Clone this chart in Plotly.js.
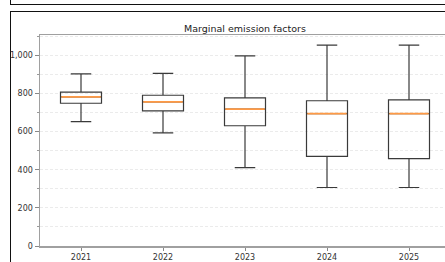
<!DOCTYPE html>
<html>
<head>
<meta charset="utf-8">
<script src="https://cdn.plot.ly/plotly-3.0.1.min.js"></script>
<style>
  html, body { margin:0; padding:0; width:445px; height:262px; overflow:hidden; background:#fff; }
  #chart { position:absolute; left:0; top:0; width:460px; height:280px; }
  .frame { position:absolute; border:1.5px solid #111; box-sizing:border-box; pointer-events:none; }
</style>
</head>
<body>
<div class="frame" style="left:10px; top:-20px; width:520px; height:25px;"></div>
<div class="frame" style="left:10px; top:11px; width:520px; height:300px;"></div>
<div id="chart"></div>
<script>
const years = ['2021', '2022', '2023', '2024', '2025'];
const upperWhisker = [903, 906, 997, 1054, 1054];
const q3 = [807, 791, 777, 762, 767];
const median = [782, 756, 718, 695, 695];
const q1 = [749, 709, 631, 470, 458];
const lowerWhisker = [653, 594, 411, 307, 307];

const pos = years.map((_, i) => i);
const boxWidth = 0.5;

const medX = [], medY = [];
pos.forEach((p, i) => {
  medX.push(p - boxWidth / 2 + 0.01, p + boxWidth / 2 - 0.01, null);
  medY.push(median[i], median[i], null);
});

const data = [
  {
    type: 'box',
    x: pos,
    q1: q1,
    median: median,
    q3: q3,
    lowerfence: lowerWhisker,
    upperfence: upperWhisker,
    width: boxWidth,
    whiskerwidth: 0.5,
    boxpoints: false,
    line: { color: '#3a3a3a', width: 1.2 },
    fillcolor: 'rgba(255,255,255,0)',
    hoverinfo: 'skip',
    showlegend: false
  },
  {
    type: 'scatter',
    mode: 'lines',
    x: medX,
    y: medY,
    line: { color: '#ff9a45', width: 1.8 },
    hoverinfo: 'skip',
    showlegend: false,
    connectgaps: false
  }
];

const layout = {
  width: 460,
  height: 280,
  margin: { l: 40, r: 10, t: 35, b: 34 },
  paper_bgcolor: 'rgba(0,0,0,0)',
  plot_bgcolor: '#fff',
  font: { family: 'DejaVu Sans, sans-serif', size: 8, color: '#333' },
  title: {
    text: 'Marginal emission factors',
    font: { size: 9.5, color: '#222' },
    x: 245 / 460, xanchor: 'center', xref: 'container',
    y: 1 - 29 / 280, yanchor: 'middle', yref: 'container'
  },
  xaxis: {
    range: [-0.5, 4.5],
    tickmode: 'array',
    tickvals: pos,
    ticktext: years,
    ticks: 'outside', ticklen: 3, tickcolor: '#888', tickwidth: 1,
    showgrid: false, zeroline: false,
    showline: true, linecolor: '#a0a0a0', linewidth: 1.5, mirror: true,
    title: { text: 'Year', standoff: 2, font: { size: 8, color: '#333' } },
    automargin: false
  },
  yaxis: {
    range: [0, 1107],
    dtick: 200, tick0: 0,
    tickformat: ',d',
    ticks: 'outside', ticklen: 4, tickcolor: '#888', tickwidth: 1,
    showgrid: true, gridcolor: '#e6e6e6', griddash: '3px,2px', gridwidth: 0.8,
    minor: { dtick: 100, tick0: 0, ticks: 'outside', ticklen: 2, tickcolor: '#999', showgrid: true, gridcolor: '#e6e6e6', griddash: '3px,2px', gridwidth: 0.8 },
    zeroline: false,
    showline: true, linecolor: '#a0a0a0', linewidth: 1.5, mirror: true,
    automargin: false
  }
};

Plotly.newPlot('chart', data, layout, { displayModeBar: false, staticPlot: true });
</script>
</body>
</html>
